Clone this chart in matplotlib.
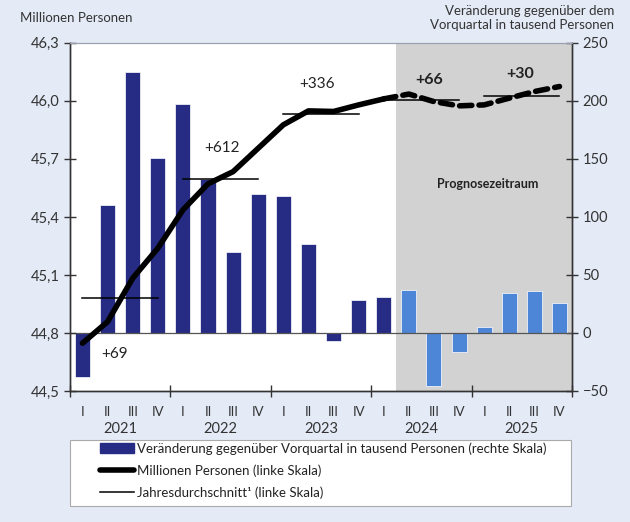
import matplotlib
matplotlib.use("Agg")
import matplotlib.pyplot as plt
import numpy as np
from matplotlib.lines import Line2D
from matplotlib.patches import Patch, Rectangle

plt.rcParams['font.family'] = ['Lato', 'DejaVu Sans']

years = ["2021", "2022", "2023", "2024", "2025"]
quarters = ["I", "II", "III", "IV"]

# change vs previous quarter, thousand persons (right scale)
changes = [-38, 110, 225, 151, 197, 133, 70, 120, 118, 77, -7, 28, 31,
           37, -46, -16, 5, 34, 36, 26]
# persons in millions (left scale)
level = [44.747, 44.858, 45.083, 45.238, 45.436, 45.571, 45.634, 45.755,
         45.876, 45.948, 45.945, 45.979, 46.010,
         46.035, 45.996, 45.974, 45.979, 46.014, 46.048, 46.074]
# annual averages (left scale)
annual_avg = [44.982, 45.596, 45.931, 46.003, 46.026]
annual_labels = ["+69", "+612", "+336", "+66", "+30"]
n_actual = 13  # quarters up to 2024 Q1 are actual data

navy = "#262b84"
light = "#4d86d6"
gray = "#d2d2d2"
bg = "#e4ebf7"

fig = plt.figure(figsize=(6.3, 5.22), dpi=100, facecolor=bg)
ax = fig.add_axes([0.111, 0.251, 0.797, 0.667])
ax2 = ax.twinx()
ax.set_zorder(ax2.get_zorder() + 1)
ax.patch.set_visible(False)
ax2.patch.set_visible(True)
ax2.patch.set_facecolor("white")

x = np.arange(len(changes))
ax2.axvspan(n_actual - 0.5, len(changes) - 0.5, color=gray, zorder=0, lw=0)
colors = [navy] * n_actual + [light] * (len(changes) - n_actual)
ax2.bar(x, changes, width=0.6, color=colors, edgecolor="white", linewidth=0.5, zorder=2)
ax2.axhline(0, color="#555555", lw=0.9, zorder=3)
ax2.set_ylim(-50, 250)
ax2.set_yticks(np.arange(-50, 251, 50))
ax2.set_yticklabels(["\u221250" if v < 0 else str(v) for v in np.arange(-50, 251, 50)])

ax.plot(x[:n_actual], level[:n_actual], color="black", lw=4, solid_capstyle="round", zorder=5)
ax.plot(x[n_actual - 1:], level[n_actual - 1:], color="black", lw=4, ls=(0, (2.2, 1.3)),
        dash_capstyle="round", zorder=5)

label_pos = [(1.29, 44.69), (5.56, 45.755), (9.36, 46.086), (13.8, 46.11), (17.43, 46.138)]
for i, (avg, lab) in enumerate(zip(annual_avg, annual_labels)):
    ax.plot([4 * i, 4 * i + 3], [avg, avg], color="black", lw=1.1, zorder=4)
    lx, ly = label_pos[i]
    ax.text(lx, ly, lab, fontsize=11 if i < 3 else 11.5, ha="center", va="center",
            fontweight="normal" if i < 3 else "bold", color="#222222", zorder=6)

ax.text(16.15, 45.569, "Prognosezeitraum", fontsize=9, fontweight="bold", ha="center",
        va="center", color="#222222", zorder=6)

ax.set_xlim(-0.5, len(changes) - 0.5)
ax.set_ylim(44.5, 46.3)
yt = np.round(np.arange(44.5, 46.31, 0.3), 1)
ax.set_yticks(yt)
ax.set_yticklabels([f"{v:.1f}".replace(".", ",") for v in yt])

ax.set_xticks(np.arange(-0.5, len(changes), 4))
ax.set_xticklabels([])
ax.set_xticks(x, minor=True)
ax.set_xticklabels(quarters * len(years), minor=True)
ax.tick_params(axis="x", which="major", direction="inout", length=8, width=1, color="#333333")
ax.tick_params(axis="x", which="minor", length=0, pad=11, labelsize=9.5, colors="#333333")
ax.tick_params(axis="y", direction="inout", length=8, width=1, labelsize=10.5, colors="#333333")
ax2.tick_params(axis="y", direction="inout", length=8, width=1, labelsize=10.5, colors="#333333")
for a in (ax, ax2):
    for s in ("left", "right", "bottom"):
        a.spines[s].set_color("#333333")
        a.spines[s].set_linewidth(1)
    a.spines["top"].set_color("#9aa0b0")
    a.spines["top"].set_linewidth(0.8)

for i, yname in enumerate(years):
    ax.text(4 * i + 1.5, -0.108, yname, transform=ax.get_xaxis_transform(), ha="center",
            va="center", fontsize=10.5, color="#333333")

fig.text(0.032, 0.966, "Millionen Personen", fontsize=9.5, ha="left", va="center", color="#333333")
fig.text(0.975, 0.966, "Veränderung gegenüber dem\nVorquartal in tausend Personen", fontsize=9.5,
         ha="right", va="center", color="#333333", linespacing=1.2)

# legend frame
frame = Rectangle((70 / 630, 1 - 506 / 522), 501 / 630, 66 / 522, transform=fig.transFigure,
                  facecolor="white", edgecolor="#aaaaaa", lw=0.8, zorder=0)
fig.patches.append(frame)

handles = [Patch(facecolor=navy, edgecolor=navy),
           Line2D([0], [0], color="black", lw=4, solid_capstyle="round"),
           Line2D([0], [0], color="black", lw=1.1)]
labels = ["Veränderung gegenüber Vorquartal in tausend Personen (rechte Skala)",
          "Millionen Personen (linke Skala)",
          "Jahresdurchschnitt\u00b9 (linke Skala)"]
leg = fig.legend(handles, labels, loc="upper left", bbox_to_anchor=(100 / 630, 1 - 442 / 522),
                 frameon=False, fontsize=9.5, handlelength=2.6,
                 handletextpad=0.2, borderpad=0.0, labelspacing=0.72, borderaxespad=0)
for t in leg.get_texts():
    t.set_color("#222222")

fig.savefig("out.png", dpi=100, facecolor=bg)
